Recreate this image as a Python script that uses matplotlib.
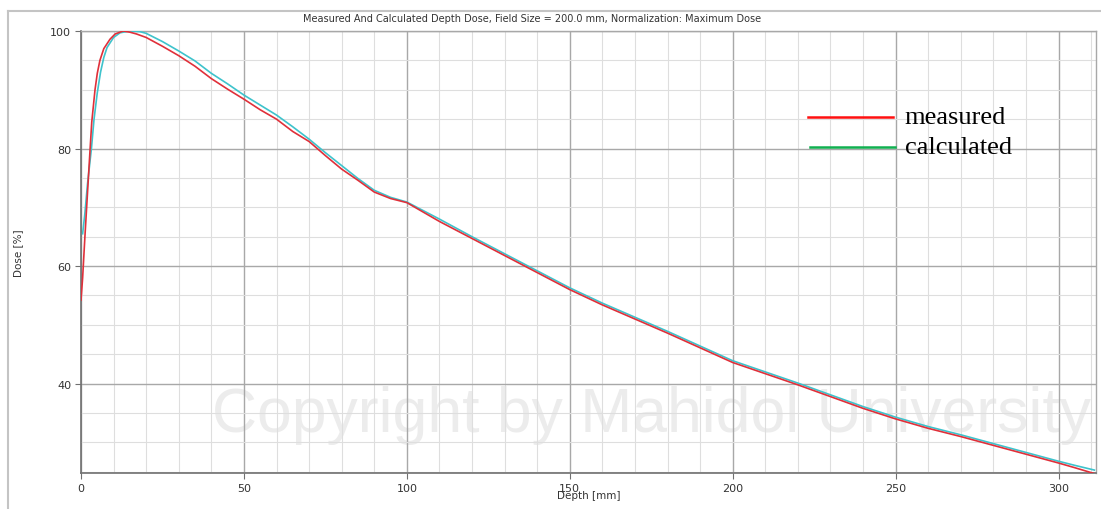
import numpy as np
import matplotlib.pyplot as plt
from matplotlib.lines import Line2D
from matplotlib.ticker import MultipleLocator

# measured depth dose (red)
depth_meas = [0, 0.5, 1.2, 2, 2.8, 3.3, 4.3, 5, 5.8, 7, 8.9, 10.5, 13, 15, 17, 20, 25,
              30, 35, 40, 45, 50, 55, 60, 65, 70, 75, 80, 85, 90, 95, 100, 110, 120,
              130, 140, 150, 160, 170, 180, 190, 200, 210, 220, 230, 240, 250, 260,
              270, 280, 290, 300, 305, 311]
dose_meas = [54.2, 58, 65, 72.5, 80, 84.5, 90, 92.8, 95, 97, 98.6, 99.5, 100, 99.8, 99.5,
             98.9, 97.4, 95.8, 94.0, 91.9, 90.1, 88.4, 86.6, 85.0, 82.9, 81.2, 78.8,
             76.5, 74.6, 72.6, 71.5, 70.8, 67.6, 64.7, 61.8, 58.9, 56.0, 53.4, 51.0,
             48.6, 46.1, 43.6, 41.7, 39.8, 37.8, 35.8, 34.0, 32.4, 31.0, 29.5, 28.0,
             26.5, 25.7, 24.7]

# calculated depth dose (cyan)
depth_calc = [0.5, 1.2, 2, 3.2, 4, 5, 6, 7, 8, 10, 12, 15, 18, 20, 25, 30, 35, 40, 45,
              50, 55, 60, 65, 70, 75, 80, 85, 90, 95, 100, 110, 120, 130, 140, 150, 160,
              170, 180, 190, 200, 210, 220, 230, 240, 250, 260, 270, 280, 290, 300, 305,
              311]
dose_calc = [65.5, 69, 74, 80, 85, 89.5, 93, 95.5, 97.2, 98.9, 99.7, 100, 99.9, 99.6,
             98.2, 96.6, 94.9, 92.8, 91.0, 89.1, 87.4, 85.7, 83.7, 81.6, 79.3, 77.1,
             74.9, 72.9, 71.7, 70.9, 68.0, 65.0, 62.1, 59.2, 56.3, 53.7, 51.3, 48.9,
             46.4, 43.9, 42.0, 40.1, 38.1, 36.1, 34.3, 32.7, 31.3, 29.8, 28.3, 26.8,
             26.1, 25.3]

title = "Measured And Calculated Depth Dose, Field Size = 200.0 mm, Normalization: Maximum Dose"

fig = plt.figure(figsize=(11.01, 5.10), dpi=100)
ax = fig.add_axes([81/1101, 1 - 474/510, (1096 - 81)/1101, (474 - 32)/510])
ax.set_zorder(2)
ax.set_facecolor('none')

# watermark behind the curves
fig.text(651/1101, 1 - 432/510, "Copyright by Mahidol University",
         family='Liberation Sans', fontsize=45,
         color='#ececec', ha='center', va='baseline', zorder=1)

ax.plot(depth_calc, dose_calc, color='#3ec3cc', lw=1.2, zorder=3)
ax.plot(depth_meas, dose_meas, color='#e0303a', lw=1.2, zorder=4)

ax.set_xlim(0, 311.5)
ax.set_ylim(24.8, 100)
ax.xaxis.set_major_locator(MultipleLocator(50))
ax.xaxis.set_minor_locator(MultipleLocator(10))
ax.yaxis.set_major_locator(MultipleLocator(20))
ax.yaxis.set_minor_locator(MultipleLocator(5))
ax.grid(which='major', color='#a8a8a8', lw=1.0)
ax.grid(which='minor', color='#dedede', lw=0.8)
ax.set_axisbelow(True)
ax.tick_params(which='major', length=4, color='#707070', labelsize=8,
               labelcolor='#333333', pad=3)
ax.tick_params(which='minor', length=0)
for s in ['left', 'bottom']:
    ax.spines[s].set_color('#707070')
    ax.spines[s].set_linewidth(1.2)
for s in ['top', 'right']:
    ax.spines[s].set_color('#a8a8a8')
    ax.spines[s].set_linewidth(1.0)

ax.set_xlabel("Depth [mm]", fontsize=7.5, color='#333333', labelpad=-2)
ax.set_ylabel("Dose [%]", fontsize=7.5, color='#333333')
ax.yaxis.set_label_coords(-0.057, 0.5)

fig.text(532/1101, 1 - 19/510, title, fontsize=7, color='#333333',
         ha='center', va='center')

# hand-made legend
ax.plot([223, 249.2], [85.4, 85.4], color='#ff1010', lw=1.8, zorder=5)
ax.plot([223.6, 249.8], [80.3, 80.3], color='#10b050', lw=1.8, zorder=5)
ax.text(252.8, 85.4, "measured", family='Liberation Serif', fontsize=19,
        va='center', ha='left', zorder=5)
ax.text(252.8, 80.3, "calculated", family='Liberation Serif', fontsize=19,
        va='center', ha='left', zorder=5)

# outer frame lines
fig.add_artist(Line2D([8/1101, 1], [1 - 12/510, 1 - 12/510], color='#c4c4c4', lw=1.5))
fig.add_artist(Line2D([8/1101, 8/1101], [0, 1 - 12/510], color='#c4c4c4', lw=1.5))

fig.savefig('out.png', dpi=100)
